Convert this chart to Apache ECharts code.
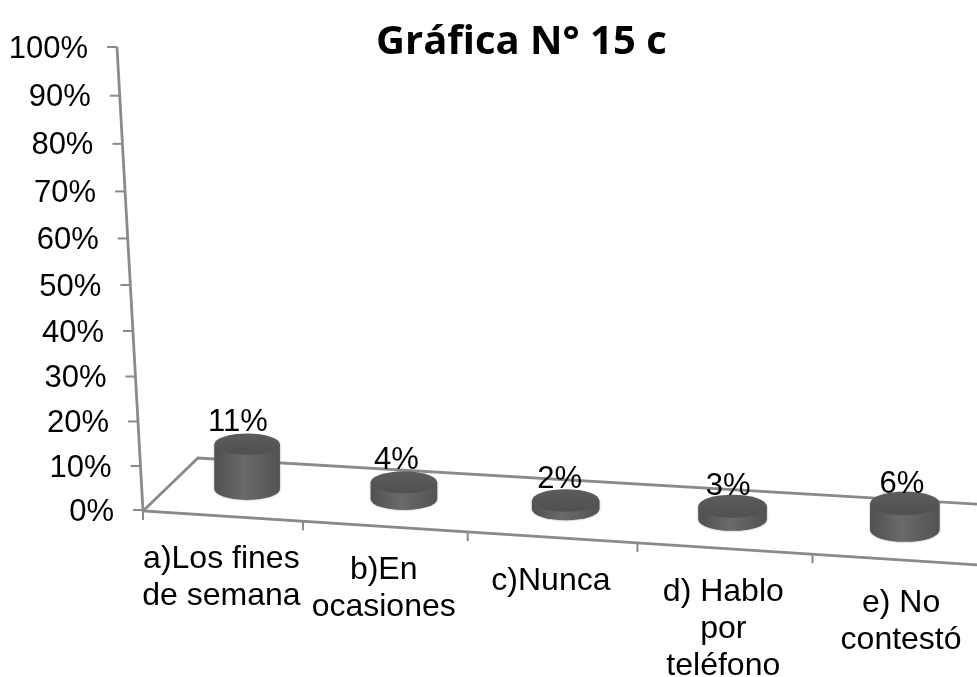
<!DOCTYPE html>
<html>
<head>
<meta charset="utf-8">
<title>Gráfica N° 15 c</title>
<script src="https://cdn.jsdelivr.net/npm/echarts@6/dist/echarts.min.js"></script>
<style>
  html, body { margin: 0; padding: 0; background: #fff; }
  #main { width: 977px; height: 677px; }
</style>
</head>
<body>
<div id="main"></div>
<script>
var chartTitle = 'Gráfica N° 15 c'
var categories = ['a)Los fines\nde semana', 'b)En\nocasiones', 'c)Nunca', 'd) Hablo\npor\nteléfono', 'e) No\ncontestó']
var values = [11, 4, 2, 3, 6]
var yTicks = [0, 10, 20, 30, 40, 50, 60, 70, 80, 90, 100]

var axisColor = '#8a8a8a'
var textColor = '#000'
var fontFamily = '"Liberation Sans", Arial, sans-serif'

// the source is a 3D perspective chart, so the linear grid position gets bent here
function bendHeight (t) {
  return 437.7 * t / (1 - 0.0546 * t)
}
function floorPoint (u, depth) {
  var fx = 143 + 788 * u / (1 - 0.073 * u)
  var fy = 511 + 0.0647 * (fx - 143)
  return [fx + 55 * (1 - u) * depth, fy - (53 + 8 * u) * depth]
}
function gridU (params, px) {
  return (px - params.coordSys.x) / params.coordSys.width
}
function gridT (params, py) {
  return (params.coordSys.y + params.coordSys.height - py) / params.coordSys.height
}
function wallPoint (t) {
  var h = bendHeight(t)
  return [143 - 26 * h / bendHeight(1), 510 - h * 463 / bendHeight(1)]
}

function renderFrame (params, api) {
  var top = wallPoint(gridT(params, api.coord([0, 100])[1]))
  var lineStyle = { stroke: axisColor, lineWidth: 2.8, fill: null }
  return {
    type: 'group',
    children: [
      { type: 'polyline', shape: { points: [top, floorPoint(0, 0), floorPoint(1, 0)] }, style: lineStyle },
      { type: 'polyline', shape: { points: [floorPoint(0, 0), floorPoint(0, 1), floorPoint(1, 1)] }, style: lineStyle }
    ]
  }
}

function renderYTick (params, api) {
  var t = gridT(params, api.coord([0, api.value(1)])[1])
  var p = wallPoint(t)
  return {
    type: 'group',
    children: [
      { type: 'line', shape: { x1: p[0] - 10, y1: p[1], x2: p[0], y2: p[1] }, style: { stroke: axisColor, lineWidth: 2 } },
      {
        type: 'text',
        style: {
          x: p[0] - 29,
          y: p[1] + 2,
          text: api.value(1) + '%',
          fill: textColor,
          fontSize: 31,
          fontFamily: fontFamily,
          align: 'right',
          verticalAlign: 'middle'
        }
      }
    ]
  }
}

function renderXTick (params, api) {
  var i = api.value(0)
  var center = api.coord([i, 0])
  var band = api.size([1, 0])[0]
  var u = gridU(params, center[0])
  var tick = floorPoint(gridU(params, center[0] + band / 2), 0)
  var front = floorPoint(u, 0)
  var children = [
    { type: 'line', shape: { x1: tick[0], y1: tick[1], x2: tick[0], y2: tick[1] + 9 }, style: { stroke: axisColor, lineWidth: 2 } },
    {
      type: 'text',
      style: {
        x: front[0] - 1,
        y: front[1] + 25,
        text: categories[i],
        fill: textColor,
        fontSize: 32,
        fontFamily: fontFamily,
        lineHeight: 37,
        align: 'center',
        verticalAlign: 'top'
      }
    }
  ]
  if (i === 0) {
    var first = floorPoint(0, 0)
    children.push({ type: 'line', shape: { x1: first[0], y1: first[1], x2: first[0], y2: first[1] + 9 }, style: { stroke: axisColor, lineWidth: 2 } })
  }
  return { type: 'group', children: children }
}

function renderCylinder (params, api) {
  var value = api.value(1)
  var base = api.coord([api.value(0), 0])
  var u = gridU(params, base[0])
  var t = gridT(params, api.coord([api.value(0), value])[1])
  var bottom = floorPoint(u, 0.5)
  var h = bendHeight(t) * (0.92 + 0.1 * u)
  var rx = 32.5 + 2.5 * u
  var ry = 10.5 + 1.5 * u
  var cx = bottom[0]
  var by = bottom[1]
  var ty = by - h
  var side = 'M' + (cx - rx) + ' ' + ty +
    ' L' + (cx - rx) + ' ' + by +
    ' A' + rx + ' ' + ry + ' 0 0 0 ' + (cx + rx) + ' ' + by +
    ' L' + (cx + rx) + ' ' + ty + ' Z'
  var cap = 'M' + (cx - rx) + ' ' + ty +
    ' A' + rx + ' ' + ry + ' 0 1 1 ' + (cx + rx) + ' ' + ty +
    ' A' + rx + ' ' + ry + ' 0 1 1 ' + (cx - rx) + ' ' + ty + ' Z'
  return {
    type: 'group',
    children: [
      {
        type: 'path',
        shape: { pathData: side },
        style: {
          fill: new echarts.graphic.LinearGradient(0, 0, 1, 0, [
            { offset: 0, color: '#505050' },
            { offset: 0.45, color: '#6a6a6a' },
            { offset: 1, color: '#525252' }
          ]),
          shadowBlur: 2,
          shadowColor: 'rgba(60,60,60,0.6)'
        }
      },
      {
        type: 'path',
        shape: { pathData: cap },
        style: {
          fill: new echarts.graphic.LinearGradient(0, 0, 0, 1, [
            { offset: 0, color: '#5c5c5c' },
            { offset: 1, color: '#505050' }
          ])
        }
      },
      {
        type: 'text',
        style: {
          x: cx - 10 + 8 * u,
          y: ty - ry - 12 + 5 * u,
          text: value + '%',
          fill: textColor,
          fontSize: 31,
          fontFamily: fontFamily,
          align: 'center',
          verticalAlign: 'middle'
        }
      }
    ]
  }
}

var chart = echarts.init(document.getElementById('main'))
chart.setOption({
  animation: false,
  title: {
    text: chartTitle,
    left: 371,
    top: 18,
    textStyle: {
      fontFamily: '"Open Sans", sans-serif',
      fontWeight: 'bold',
      fontSize: 40,
      color: '#000'
    }
  },
  grid: { left: 143, top: 47, width: 850, height: 463 },
  xAxis: { type: 'category', data: categories, show: false },
  yAxis: { type: 'value', min: 0, max: 100, interval: 10, show: false },
  series: [
    { type: 'custom', clip: false, silent: true, z: 1, data: [[0, 0]], renderItem: renderFrame },
    {
      type: 'custom',
      clip: false,
      silent: true,
      z: 2,
      data: yTicks.map(function (v) { return [0, v] }),
      renderItem: renderYTick
    },
    {
      type: 'custom',
      clip: false,
      silent: true,
      z: 2,
      data: categories.map(function (c, i) { return [i, 0] }),
      renderItem: renderXTick
    },
    {
      type: 'custom',
      clip: false,
      silent: true,
      z: 3,
      data: values.map(function (v, i) { return [i, v] }),
      renderItem: renderCylinder
    }
  ]
})
</script>
</body>
</html>
